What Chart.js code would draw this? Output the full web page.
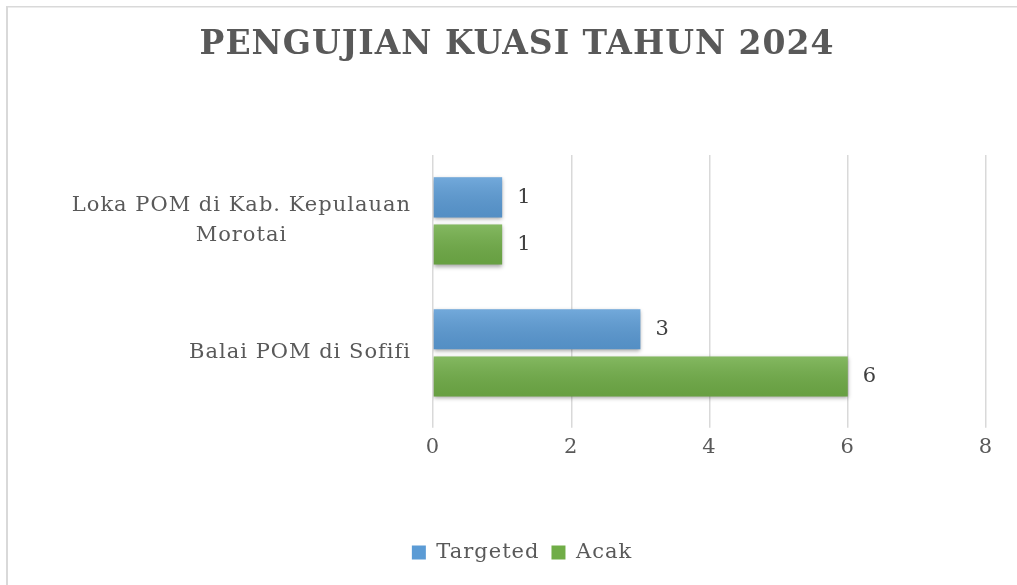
<!DOCTYPE html>
<html>
<head>
<meta charset="utf-8">
<script src="https://cdn.jsdelivr.net/npm/chart.js@4/dist/chart.umd.min.js"></script>
<style>
  html, body { margin: 0; padding: 0; background: #fff; overflow: hidden; }
  #wrap { width: 1017px; height: 585px; }
</style>
</head>
<body>
<div id="wrap"><canvas id="chart"></canvas></div>
<script>
const categories = [["Loka POM di Kab. Kepulauan", "Morotai"], ["Balai POM di Sofifi"]];
const targeted = [1, 3];
const acak = [1, 6];
const xMax = 8;
const xStep = 2;
const chartTitle = 'PENGUJIAN KUASI TAHUN 2024';

const FONT = "'DejaVu Serif', 'Liberation Serif', serif";
const TEXT = '#595959';

// light frame line on top and left, like the original chart box
const framePlugin = {
  id: 'frame',
  beforeDraw(chart) {
    const c = chart.ctx;
    c.fillStyle = '#fff';
    c.fillRect(0, 0, chart.width, chart.height);
    c.fillStyle = '#d9d9d9';
    c.fillRect(6, 6, chart.width - 6, 1.5);
    c.fillRect(6, 6, 2, chart.height - 6);
    // the original font is wider, a bit of spacing makes up for it
    c.letterSpacing = '1px';
  },
  afterDraw(chart) {
    // title centred on the whole box, not on the plot
    const c = chart.ctx;
    c.save();
    c.font = 'bold 33px ' + FONT;
    c.fillStyle = TEXT;
    c.textAlign = 'center';
    c.textBaseline = 'middle';
    c.fillText(chartTitle, 517, 45);
    c.restore();
  }
};

// shadow under bars + soft vertical shading on each bar
const barLookPlugin = {
  id: 'barLook',
  beforeDatasetsDraw(chart) {
    const c = chart.ctx;
    c.save();
    c.shadowColor = 'rgba(0,0,0,0.35)';
    c.shadowBlur = 4;
    c.shadowOffsetY = 2;
  },
  afterDatasetsDraw(chart) {
    const c = chart.ctx;
    c.restore();
    chart.data.datasets.forEach((ds, i) => {
      chart.getDatasetMeta(i).data.forEach(bar => {
        const { x, y, base, height } = bar.getProps(['x', 'y', 'base', 'height'], true);
        const top = y - height / 2;
        const g = c.createLinearGradient(0, top, 0, top + height);
        g.addColorStop(0, 'rgba(255,255,255,0.14)');
        g.addColorStop(1, 'rgba(0,0,0,0.08)');
        c.fillStyle = g;
        c.fillRect(base, top, x - base, height);
      });
    });
  }
};

// value labels at the end of bars
const valueLabelPlugin = {
  id: 'valueLabels',
  afterDatasetsDraw(chart) {
    const c = chart.ctx;
    c.save();
    c.font = '21px ' + FONT;
    c.fillStyle = '#404040';
    c.textAlign = 'left';
    c.textBaseline = 'middle';
    chart.data.datasets.forEach((ds, i) => {
      chart.getDatasetMeta(i).data.forEach((bar, j) => {
        const { x, y } = bar.getProps(['x', 'y'], true);
        c.fillText(String(ds.data[j]), x + 15, y);
      });
    });
    c.restore();
  }
};

// category labels: block right-aligned to the axis, lines centred inside the block
const catLabelPlugin = {
  id: 'catLabels',
  afterDraw(chart) {
    const c = chart.ctx;
    const yScale = chart.scales.y;
    const right = chart.chartArea.left - 22;
    const lineH = 30;
    c.save();
    c.font = '21px ' + FONT;
    c.fillStyle = TEXT;
    c.textAlign = 'center';
    c.textBaseline = 'middle';
    chart.data.labels.forEach((lab, i) => {
      const lines = Array.isArray(lab) ? lab : [lab];
      const w = Math.max(...lines.map(l => c.measureText(l).width));
      const cx = right - w / 2;
      const cy = yScale.getPixelForValue(i);
      lines.forEach((l, k) => {
        c.fillText(l, cx, cy + (k - (lines.length - 1) / 2) * lineH);
      });
    });
    c.restore();
  }
};

new Chart(document.getElementById('chart'), {
  type: 'bar',
  data: {
    labels: categories,
    datasets: [
      { label: 'Targeted', data: targeted, backgroundColor: '#5b9bd5' },
      { label: 'Acak', data: acak, backgroundColor: '#70ad47' }
    ]
  },
  options: {
    indexAxis: 'y',
    responsive: true,
    maintainAspectRatio: false,
    animation: false,
    categoryPercentage: 0.715,
    barPercentage: 0.85,
    layout: { padding: { left: 46, right: 31, top: 155, bottom: 12 } },
    scales: {
      x: {
        min: 0,
        max: xMax,
        ticks: {
          stepSize: xStep,
          color: TEXT,
          font: { family: FONT, size: 21 },
          padding: 7
        },
        grid: { color: '#d9d9d9', lineWidth: 1.5, tickLength: 9 },
        border: { display: false },
        afterFit(scale) { scale.height += 63; }
      },
      y: {
        ticks: { display: false },
        grid: { display: false },
        border: { display: false },
        afterFit(scale) { scale.width = 433 - 46; }
      }
    },
    plugins: {
      title: { display: false },
      legend: {
        position: 'bottom',
        labels: {
          color: TEXT,
          font: { family: FONT, size: 21 },
          boxWidth: 14,
          boxHeight: 14,
          padding: 12
        }
      },
      tooltip: { enabled: false }
    }
  },
  plugins: [framePlugin, barLookPlugin, valueLabelPlugin, catLabelPlugin]
});
</script>
</body>
</html>
